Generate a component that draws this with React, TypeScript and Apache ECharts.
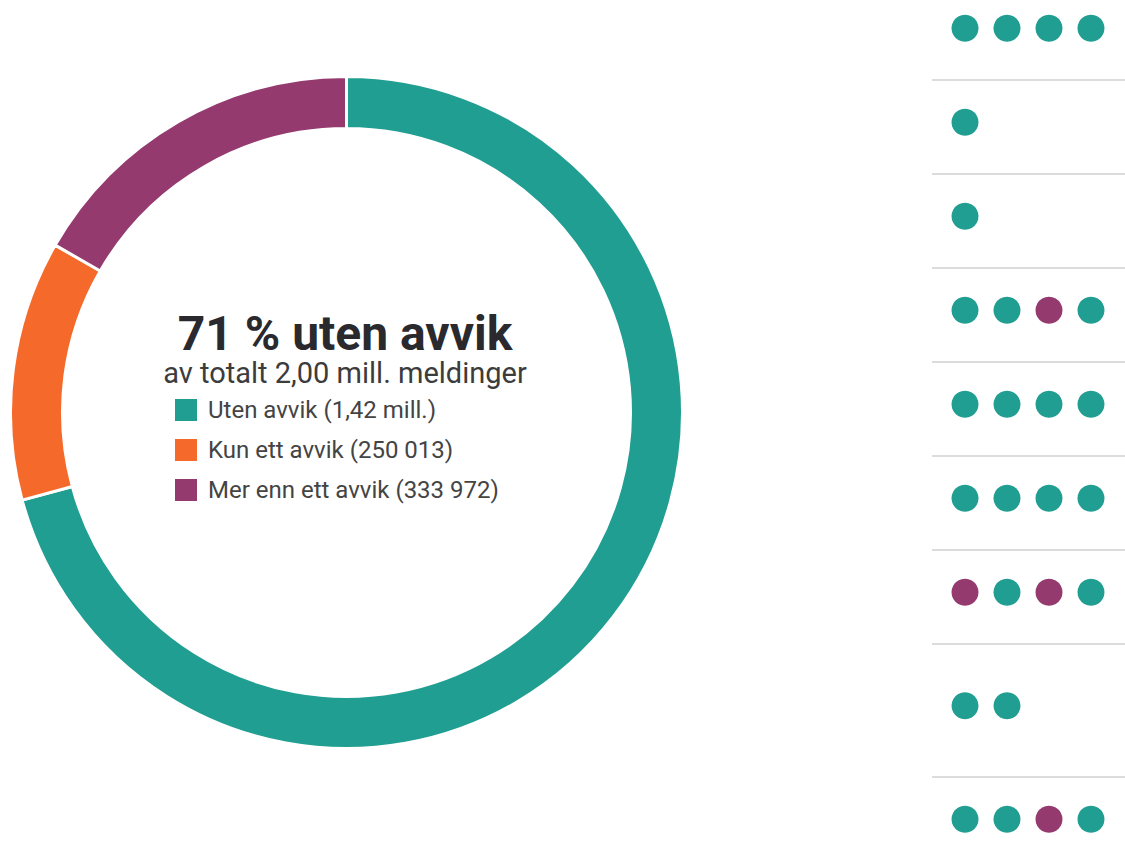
import React, { useEffect, useRef } from "react";
import * as echarts from "echarts";

const categories = ["Uten avvik", "Kun ett avvik", "Mer enn ett avvik"];
const values = [1416015, 250013, 333972];
// each row of the right-hand panel: category index of every dot
const rowDots: number[][] = [
  [0, 0, 0, 0],
  [0],
  [0],
  [0, 0, 2, 0],
  [0, 0, 0, 0],
  [0, 0, 0, 0],
  [2, 0, 2, 0],
  [0, 0],
  [0, 0, 2, 0],
];

const COLORS = ["#209e91", "#f56a2a", "#943a6e"];
const ROW_H = [1, 1, 1, 1, 1, 1, 1, 1.415, 1];

function fmtNum(v: number): string {
  if (v >= 1e6) return (v / 1e6).toFixed(2).replace(".", ",") + " mill.";
  return String(v).replace(/\B(?=(\d{3})+(?!\d))/g, " ");
}

export default function App() {
  const ref = useRef<HTMLDivElement>(null);
  useEffect(() => {
    if (!ref.current) return;
    const chart = echarts.init(ref.current, undefined, { renderer: "svg" });
    const total = values.reduce((a, b) => a + b, 0);
    const pct = Math.round((values[0] / total) * 100);

    const dots: any[] = [];
    const bounds: number[] = [];
    let acc = 0;
    rowDots.forEach((row, r) => {
      const h = ROW_H[r];
      const yc = acc + h / 2 - 0.05;
      row.forEach((cat, c) =>
        dots.push({ value: [c, yc], itemStyle: { color: COLORS[cat], opacity: 1 } })
      );
      acc += h;
      if (r < rowDots.length - 1) bounds.push(acc);
    });

    chart.setOption({
      animation: false,
      color: COLORS,
      title: [
        {
          text: `${pct} % uten avvik`,
          left: 340,
          top: 306,
          textAlign: "center",
          textStyle: {
            fontFamily: "Roboto",
            fontSize: 48,
            lineHeight: 44,
            fontWeight: "bold",
            color: "#2a2a2e",
          },
        },
        {
          text: `av totalt ${(total / 1e6).toFixed(2).replace(".", ",")} mill. meldinger`,
          left: 340,
          top: 355,
          textAlign: "center",
          textStyle: {
            fontFamily: "Roboto",
            fontSize: 29,
            lineHeight: 26,
            fontWeight: "normal",
            color: "#3c3c3c",
          },
        },
      ],
      legend: {
        orient: "vertical",
        left: 170,
        top: 393,
        icon: "rect",
        itemWidth: 22,
        itemHeight: 22,
        itemGap: 16,
        selectedMode: false,
        itemStyle: { borderWidth: 0 },
        textStyle: { fontFamily: "Roboto", fontSize: 24, color: "#444", padding: [0, 0, 0, 6] },
        formatter: (name: string) => {
          const i = categories.indexOf(name);
          return `${name} (${fmtNum(values[i])})`;
        },
        data: categories,
      },
      grid: { left: 932, right: 0, top: 0, bottom: 0 },
      xAxis: { type: "value", min: -0.786, max: 3.81, show: false },
      yAxis: { type: "value", min: 0.149, max: 9.351, inverse: true, show: false },
      series: [
        {
          type: "pie",
          center: [346.5, 412.5],
          radius: [284, 336],
          startAngle: 90,
          clockwise: true,
          label: { show: false },
          labelLine: { show: false },
          silent: true,
          emphasis: { disabled: true },
          itemStyle: { borderColor: "#fff", borderWidth: 3 },
          data: categories.map((n, i) => ({ name: n, value: values[i] })),
        },
        {
          type: "scatter",
          symbolSize: 27,
          silent: true,
          itemStyle: { opacity: 1 },
          data: dots,
          markLine: {
            silent: true,
            symbol: ["none", "none"],
            label: { show: false },
            lineStyle: { color: "#dcdcdc", width: 2, type: "solid" },
            data: bounds.map((b) => ({ yAxis: b })),
          },
        },
      ],
    });
    return () => chart.dispose();
  }, []);
  return (
    <div
      ref={ref}
      style={{ position: "fixed", left: 0, top: 0, width: 1125, height: 865, background: "#fff" }}
    />
  );
}
